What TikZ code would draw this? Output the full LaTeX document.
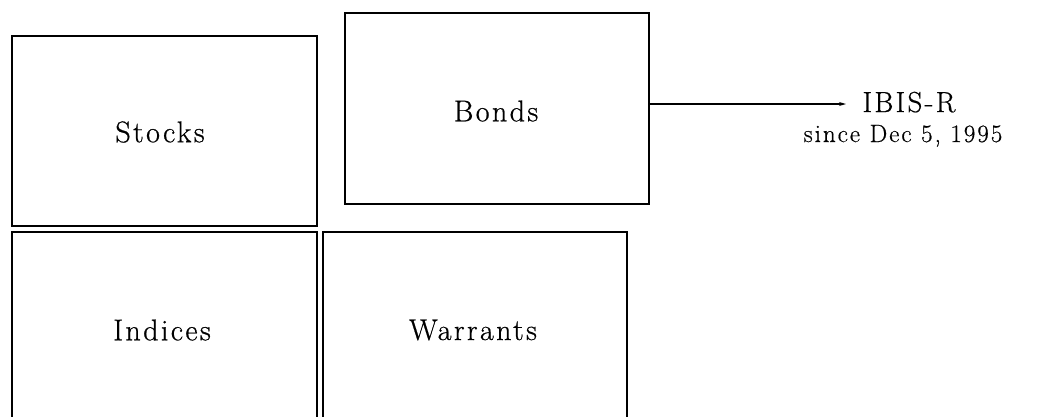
\documentclass[tikz,border=0pt]{standalone}
\usepackage{fontspec}
\newfontfamily\spacedfont[LetterSpace=8,FakeBold=0.6]{Latin Modern Roman}
\usetikzlibrary{arrows.meta}
\begin{document}
\begin{tikzpicture}[x=1pt,y=-1pt,
  box/.style={draw,line width=1.7pt},
  lbl/.style={font=\spacedfont\fontsize{30}{36}\selectfont,inner sep=0pt},
  side/.style={font=\spacedfont\fontsize{25}{30}\selectfont,inner sep=0pt}]
\useasboundingbox (0,0) rectangle (1041,416);
\clip (0,0) rectangle (1041,416);
\draw[box] (12,36) rectangle (317,226);
\draw[box] (345,13) rectangle (649,204);
\draw[box] (12,232) rectangle (317,430);
\draw[box] (323,232) rectangle (627,430);
\node[lbl] (stocks) at (160,132) {Stocks};
\node[lbl] (bonds) at (496,111) {Bonds};
\node[lbl] (indices) at (162,330) {Indices};
\node[lbl] (warrants) at (473,330) {Warrants};
\coordinate (bondsE) at (649,104);
\node[side,anchor=base] (ibis) at (909,112) {\fontsize{29}{30}\selectfont IBIS-R};
\node[side,anchor=base] (since) at (903,142) {since Dec 5, 1995};
\coordinate (tip) at (846,104);
\draw[line width=1.7pt,-{Stealth[length=7pt,width=4pt]}] (bondsE) -- (tip);
\end{tikzpicture}
\end{document}
